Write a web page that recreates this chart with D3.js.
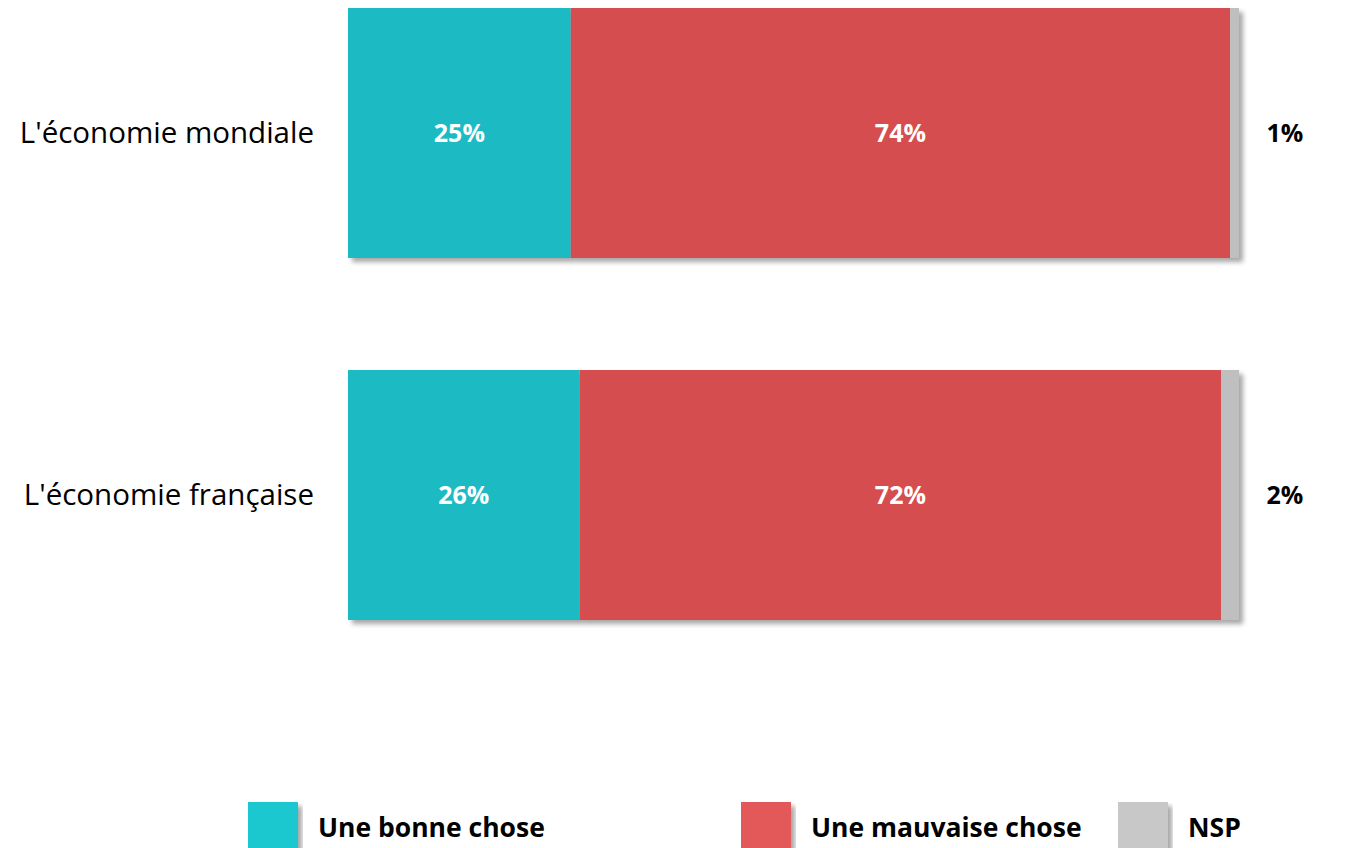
<!DOCTYPE html>
<html>
<head>
<meta charset="utf-8">
<script src="https://cdn.jsdelivr.net/npm/d3@7"></script>
<style>
  body { margin: 0; background: #fff; overflow: hidden; }
  svg { display: block; font-family: "Open Sans", "Noto Sans", sans-serif; }
</style>
</head>
<body>
<div id="chart"></div>
<script>
const categories = ["L'économie mondiale", "L'économie française"];
const series = ["Une bonne chose", "Une mauvaise chose", "NSP"];
const bonne = [25, 26];
const mauvaise = [74, 72];
const nsp = [1, 2];

const width = 1365, height = 848;
const margin = {top: 8, left: 348, right: 126};

const barColors = ["#1abbc4", "#d64e50", "#bfbfbf"];
const legendColors = ["#1ec8d0", "#e35858", "#c8c8c8"];

const svg = d3.select('#chart')
  .append('svg')
  .attr('width', width)
  .attr('height', height)
  .attr('viewBox', [0, 0, width, height]);

// soft drop shadow like the office chart
const defs = svg.append('defs');
const f = defs.append('filter').attr('id', 'shadow')
  .attr('x', '-5%').attr('y', '-5%').attr('width', '115%').attr('height', '120%');
f.append('feGaussianBlur').attr('in', 'SourceAlpha').attr('stdDeviation', 2.5);
f.append('feOffset').attr('dx', 4).attr('dy', 4).attr('result', 'off');
f.append('feComponentTransfer').append('feFuncA').attr('type', 'linear').attr('slope', 0.35);
const m = f.append('feMerge');
m.append('feMergeNode');
m.append('feMergeNode').attr('in', 'SourceGraphic');

const x = d3.scaleLinear()
  .domain([0, 100])
  .range([margin.left, width - margin.right]);

const y = d3.scaleBand()
  .domain(categories)
  .range([margin.top, 620])
  .paddingInner(112 / 362)
  .paddingOuter(0);

// stack the three series per category
const rows = categories.map((c, i) => ({cat: c, bonne: bonne[i], mauvaise: mauvaise[i], nsp: nsp[i]}));
const stacked = d3.stack().keys(['bonne', 'mauvaise', 'nsp'])(rows);

const barsG = svg.append('g').attr('filter', 'url(#shadow)');
barsG.selectAll('g')
  .data(stacked)
  .join('g')
    .attr('fill', (d, i) => barColors[i])
  .selectAll('rect')
  .data(d => d)
  .join('rect')
    .attr('x', d => x(d[0]))
    .attr('y', d => y(d.data.cat))
    .attr('width', d => x(d[1]) - x(d[0]))
    .attr('height', y.bandwidth());

// labels inside the bars
stacked.slice(0, 2).forEach(s => {
  svg.append('g').selectAll('text')
    .data(s)
    .join('text')
      .attr('x', d => (x(d[0]) + x(d[1])) / 2)
      .attr('y', d => y(d.data.cat) + y.bandwidth() / 2)
      .attr('dy', '0.35em')
      .attr('text-anchor', 'middle')
      .attr('fill', '#fff')
      .attr('font-weight', 'bold')
      .attr('font-size', '25px')
      .text(d => (d[1] - d[0]) + '%');
});

// NSP labels outside
svg.append('g').selectAll('text')
  .data(stacked[2])
  .join('text')
    .attr('x', 1285)
    .attr('y', d => y(d.data.cat) + y.bandwidth() / 2)
    .attr('dy', '0.35em')
    .attr('text-anchor', 'middle')
    .attr('fill', '#000')
    .attr('font-weight', 'bold')
    .attr('font-size', '25px')
    .text(d => (d[1] - d[0]) + '%');

// category labels
svg.append('g').selectAll('text')
  .data(categories)
  .join('text')
    .attr('x', 314)
    .attr('y', d => y(d) + y.bandwidth() / 2)
    .attr('dy', '0.35em')
    .attr('text-anchor', 'end')
    .attr('font-size', '29.5px')
    .attr('fill', '#000')
    .text(d => d);

// legend
const legendX = [248, 741, 1118];
const legend = svg.append('g').selectAll('g')
  .data(series)
  .join('g')
    .attr('transform', (d, i) => `translate(${legendX[i]},802)`);
legend.append('rect')
  .attr('width', 50).attr('height', 50)
  .attr('fill', (d, i) => legendColors[i])
  .attr('filter', 'url(#shadow)');
legend.append('text')
  .attr('x', 70).attr('y', 26)
  .attr('dy', '0.35em')
  .attr('font-weight', 'bold')
  .attr('font-size', '26.5px')
  .attr('fill', '#000')
  .text(d => d);
</script>
</body>
</html>
